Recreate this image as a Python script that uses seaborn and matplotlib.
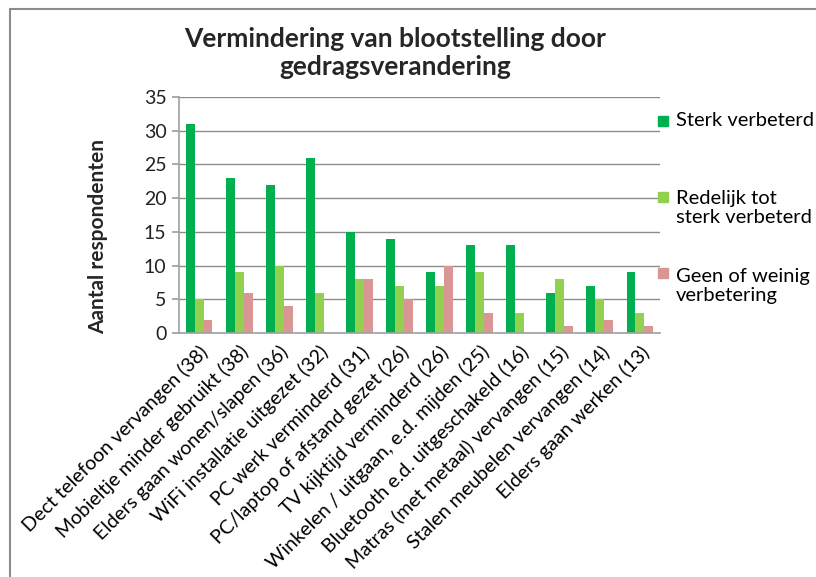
import matplotlib
matplotlib.use("Agg")
import matplotlib.pyplot as plt
import seaborn as sns
import pandas as pd
from matplotlib.patches import Rectangle
from matplotlib.lines import Line2D

categories = [
    "Dect telefoon vervangen (38)",
    "Mobieltje minder gebruikt (38)",
    "Elders gaan wonen/slapen (36)",
    "WiFi installatie uitgezet (32)",
    "PC werk verminderd (31)",
    "PC/laptop of afstand gezet (26)",
    "TV kijktijd verminderd (26)",
    "Winkelen / uitgaan, e.d. mijden (25)",
    "Bluetooth e.d. uitgeschakeld (16)",
    "Matras (met metaal) vervangen (15)",
    "Stalen meubelen vervangen (14)",
    "Elders gaan werken (13)",
]
sterk = [31, 23, 22, 26, 15, 14, 9, 13, 13, 6, 7, 9]
redelijk = [5, 9, 10, 6, 8, 7, 7, 9, 3, 8, 5, 3]
geen = [2, 6, 4, 0, 8, 5, 10, 3, 0, 1, 2, 1]
series_names = ["Sterk verbeterd", "Redelijk tot\nsterk verbeterd", "Geen of weinig\nverbetering"]
colors = ["#00B050", "#92D050", "#D99694"]
yticks = [0, 5, 10, 15, 20, 25, 30, 35]

rows = []
for s, vals in zip(series_names, [sterk, redelijk, geen]):
    for c, v in zip(categories, vals):
        rows.append({"cat": c, "serie": s, "val": v})
df = pd.DataFrame(rows)

sns.set_theme(style="white")
plt.rcParams["font.family"] = ["Lato", "DejaVu Sans"]

fig = plt.figure(figsize=(8.16, 5.77), dpi=100)
W, H = 816, 577
ax = fig.add_axes([179 / W, 1 - 333 / H, (660 - 179) / W, (333 - 97) / H])

sns.barplot(data=df, x="cat", y="val", hue="serie", palette=colors,
            width=0.67, ax=ax, legend=False, saturation=1, edgecolor="none")

ax.set_ylim(0, 35)
ax.set_xlim(-0.5, len(categories) - 0.5)
ax.set_yticks(yticks)
ax.set_yticklabels([str(t) for t in yticks], fontsize=14, color="#222222")
ax.yaxis.grid(True, color="#8C8C8C", linewidth=1.0)
ax.set_axisbelow(True)
for sp in ["top", "right"]:
    ax.spines[sp].set_visible(False)
for sp in ["left", "bottom"]:
    ax.spines[sp].set_color("#A0A0A0")
    ax.spines[sp].set_linewidth(1.2)
ax.tick_params(axis="y", which="major", left=True, length=5, color="#A0A0A0", pad=4)
ax.tick_params(axis="x", bottom=False, pad=1)
ax.set_xticks(range(len(categories)))
ax.set_xticklabels(categories, rotation=45, ha="right", rotation_mode="anchor",
                   fontsize=14.1, color="#000000")
ax.set_xlabel("")
ax.set_ylabel("Aantal respondenten", fontsize=15, fontweight="bold")
ax.yaxis.set_label_coords(-0.148, 0.407)

fig.text(395 / W, 1 - 53 / H, "Vermindering van blootstelling door\ngedragsverandering",
         ha="center", va="center", fontsize=19, fontweight="bold", linespacing=1.2)

# legend
leg_y = [121, 208, 286]
sq_y = [121, 197, 273]
for name, col, ty, sy in zip(series_names, colors, leg_y, sq_y):
    fig.patches.append(Rectangle((658 / W, 1 - (sy + 5) / H), 10 / W, 10 / H,
                                 transform=fig.transFigure, color=col, figure=fig))
    fig.text(676 / W, 1 - ty / H, name, ha="left", va="center", fontsize=14.5,
             linespacing=1.15, color="#000000")

# chart frame
fig.lines.append(Line2D([10 / W, 10 / W], [0, 1 - 9 / H], transform=fig.transFigure,
                        color="#8C8C8C", linewidth=1.5))
fig.lines.append(Line2D([10 / W, 1], [1 - 9 / H, 1 - 9 / H], transform=fig.transFigure,
                        color="#8C8C8C", linewidth=1.5))

fig.savefig("out.png", dpi=100)
